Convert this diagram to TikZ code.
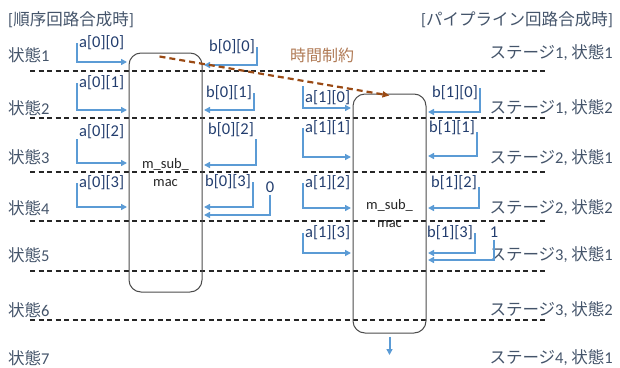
\documentclass[tikz,border=0pt]{standalone}
\usepackage{fontspec}
\setmainfont{Carlito}
\newfontfamily\jpfont{Noto Sans CJK JP}
\usetikzlibrary{arrows.meta,calc}
\definecolor{statecol}{HTML}{44546A}
\definecolor{idxcol}{HTML}{223D6E}
\definecolor{wirecol}{HTML}{5B9BD5}
\definecolor{timecol}{HTML}{B07A55}
\definecolor{timeline}{HTML}{9A4A14}

\begin{document}
\begin{tikzpicture}[x=1pt, y=-1pt,
    state/.style={text=statecol, font=\fontsize{16.5}{18}\selectfont, inner sep=0pt},
    idx/.style={text=idxcol, font=\fontsize{16.5}{18}\selectfont, inner sep=2pt},
    wire/.style={wirecol, line width=2pt, shorten >=1.5pt, -{Triangle[length=6pt,width=6pt]}},
    bound/.style={black!85, line width=1.2pt, dash pattern=on 5pt off 3.5pt},
    macbox/.style={draw=black!70, line width=1pt, rounded corners=12pt, minimum width=73pt, minimum height=239pt, align=center, text=black!85, font=\fontsize{14.5}{18}\selectfont}]
    \useasboundingbox (0,0) rectangle (620,367);
    \node[state, anchor=west] (ttlseq) at (8,20) {[{\jpfont 順序回路合成時}]};
    \node[state, anchor=east] (ttlpipe) at (613,20) {[{\jpfont パイプライン回路合成時}]};
    \node[state, anchor=west] (s1) at (8,55) {{\jpfont 状態}1};
    \node[state, anchor=west] (s2) at (8,108) {{\jpfont 状態}2};
    \node[state, anchor=west] (s3) at (8,157) {{\jpfont 状態}3};
    \node[state, anchor=west] (s4) at (8,208) {{\jpfont 状態}4};
    \node[state, anchor=west] (s5) at (8,255) {{\jpfont 状態}5};
    \node[state, anchor=west] (s6) at (8,310) {{\jpfont 状態}6};
    \node[state, anchor=west] (s7) at (8,358) {{\jpfont 状態}7};
    \node[state, anchor=east] (p11) at (613,53) {{\jpfont ステージ}1, {\jpfont 状態}1};
    \node[state, anchor=east] (p12) at (613,108) {{\jpfont ステージ}1, {\jpfont 状態}2};
    \node[state, anchor=east] (p21) at (613,158) {{\jpfont ステージ}2, {\jpfont 状態}1};
    \node[state, anchor=east] (p22) at (613,208) {{\jpfont ステージ}2, {\jpfont 状態}2};
    \node[state, anchor=east] (p31) at (613,255) {{\jpfont ステージ}3, {\jpfont 状態}1};
    \node[state, anchor=east] (p32) at (613,310) {{\jpfont ステージ}3, {\jpfont 状態}2};
    \node[state, anchor=east] (p41) at (613,358) {{\jpfont ステージ}4, {\jpfont 状態}1};
    \draw[bound] (30,71) -- (545,71);
    \draw[bound] (30,118) -- (545,118);
    \draw[bound] (30,172) -- (545,172);
    \draw[bound] (30,221) -- (545,221);
    \draw[bound] (30,271) -- (545,271);
    \draw[bound] (30,320) -- (545,320);
    \node[macbox] (mac0) at (165.5,172.5) {m\_sub\_\\mac};
    \node[macbox] (mac1) at (389.5,213.5) {m\_sub\_\\mac};
    \node[idx, anchor=west] (a00) at (77,43) {a[0][0]};
    \draw[wire] (a00.west) |- (mac0.west |- 0,62);
    \node[idx, anchor=west] (a01) at (77,83) {a[0][1]};
    \draw[wire] (a01.west) |- (mac0.west |- 0,110);
    \node[idx, anchor=west] (a02) at (77,132) {a[0][2]};
    \draw[wire] ([yshift=-7pt]a02.west) |- (mac0.west |- 0,163);
    \node[idx, anchor=west] (a03) at (77,183) {a[0][3]};
    \draw[wire] (a03.west) |- (mac0.west |- 0,207);
    \node[idx, anchor=east] (b00) at (257,47) {b[0][0]};
    \draw[wire] (b00.east) |- (mac0.east |- 0,65);
    \node[idx, anchor=east] (b01) at (254,93) {b[0][1]};
    \draw[wire] (b01.east) |- (mac0.east |- 0,110);
    \node[idx, anchor=east] (b02) at (256,130) {b[0][2]};
    \draw[wire] ([yshift=-9pt]b02.east) |- (mac0.east |- 0,165);
    \node[idx, anchor=east] (b03) at (253,182) {b[0][3]};
    \draw[wire] (b03.east) |- (mac0.east |- 0,207);
    \node[idx] (c0) at (270,187) {0};
    \draw[wire] (c0.south) |- (mac0.east |- 0,215);
    \node[idx, anchor=west] (a10) at (303,98) {a[1][0]};
    \draw[wire] ([yshift=12pt]a10.west) |- (mac1.west |- 0,108);
    \node[idx, anchor=west] (a11) at (303,128) {a[1][1]};
    \draw[wire] (a11.west) |- (mac1.west |- 0,157);
    \node[idx, anchor=west] (a12) at (303,183) {a[1][2]};
    \draw[wire] (a12.west) |- (mac1.west |- 0,208);
    \node[idx, anchor=west] (a13) at (303,233) {a[1][3]};
    \draw[wire] (a13.west) |- (mac1.west |- 0,253);
    \node[idx, anchor=east] (b10) at (480,93) {b[1][0]};
    \draw[wire] ([yshift=5pt]b10.east) |- (mac1.east |- 0,112);
    \node[idx, anchor=east] (b11) at (477,128) {b[1][1]};
    \draw[wire] ([yshift=-4pt]b11.east) |- (mac1.east |- 0,156);
    \node[idx, anchor=east] (b12) at (479,183) {b[1][2]};
    \draw[wire] ([yshift=-4pt]b12.east) |- (mac1.east |- 0,208);
    \node[idx, anchor=east] (b13) at (475,233) {b[1][3]};
    \draw[wire] (b13.east) |- (mac1.east |- 0,253);
    \node[idx] (c1) at (494,232) {1};
    \draw[wire] (c1.south) |- (mac1.east |- 0,260);
    \coordinate (out1) at (388,355);
    \draw[wire, shorten >=0pt] ([yshift=-3pt]mac1.south) -- (mac1.south |- out1);
    \node[text=timecol, font=\fontsize{16}{18}\selectfont\jpfont] (tlim) at (322,55) {時間制約};
    \draw[timeline, line width=2.2pt, dash pattern=on 6pt off 4pt, -{Triangle[length=7pt,width=6pt]}] ($(mac0.north)+(-6,4)$) -- ([yshift=-2pt]mac1.north);
\end{tikzpicture}
\end{document}
